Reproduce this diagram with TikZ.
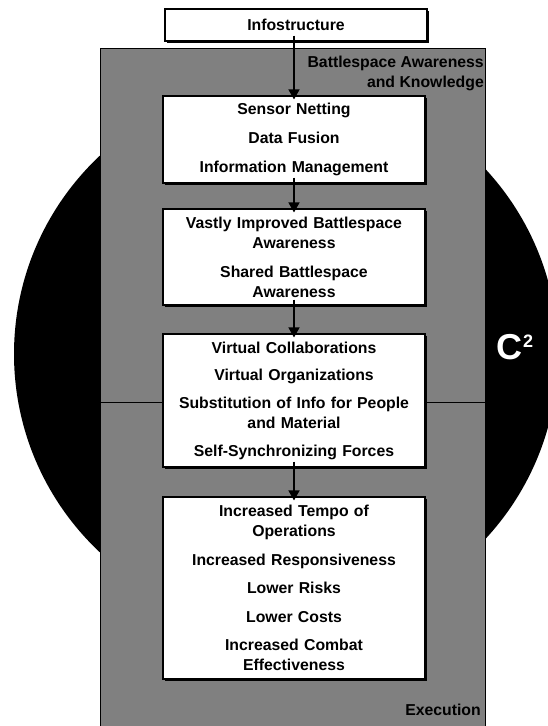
\documentclass[tikz,border=0pt]{standalone}
\usepackage{fontspec}
\setmainfont{Liberation Sans}
\usetikzlibrary{arrows.meta,shadows}
\definecolor{bkgray}{HTML}{808080}

\begin{document}
\begin{tikzpicture}[x=1pt,y=-1pt,
    box/.style={draw,fill=white,line width=1.1pt,minimum width=262pt,inner sep=0pt,
      text width=255pt,align=center,font=\fontsize{15.8}{20}\selectfont\bfseries,
      drop shadow={shadow xshift=1.6pt,shadow yshift=-1.6pt,opacity=1,fill=black}},
    lbl/.style={inner sep=0pt,font=\fontsize{15.8}{20}\selectfont\bfseries},
    flow/.style={-{Triangle[width=11pt,length=10pt]},line width=1.5pt,
      shorten <=-6pt,shorten >=-4pt}]
  \useasboundingbox (0,0) rectangle (547,726);
  % C2 disc and the awareness frame
  \fill[black] (286,354) circle (272pt);
  \draw[fill=bkgray,line width=0.8pt] (100,48) rectangle (485,740);
  \node[box,minimum height=32pt] (info) at (296,25) {Infostructure};
  \node[box,minimum height=87pt] (sense) at (294,139.5)
    {Sensor Netting\\[9pt]Data Fusion\\[9pt]Information Management};
  \node[box,minimum height=96pt] (aware) at (294,257)
    {Vastly Improved Battlespace\\Awareness\\[9pt]Shared Battlespace\\Awareness};
  \node[box,minimum height=133pt] (collab) at (294,400.5)
    {Virtual Collaborations\\[7.7pt]Virtual Organizations\\[7.7pt]Substitution of Info for People\\and Material\\[7.7pt]Self-Synchronizing Forces};
  \node[box,minimum height=182pt] (effect) at (294,588)
    {Increased Tempo of\\Operations\\[8.5pt]Increased Responsiveness\\[8.5pt]Lower Risks\\[8.5pt]Lower Costs\\[8.5pt]Increased Combat\\Effectiveness};
  \node[lbl,anchor=north east,align=right] (bak) at (484,56) {Battlespace Awareness\\and Knowledge};
  \node[lbl,anchor=base east] (exec) at (481,715) {Execution};
  \node[lbl,anchor=base west,text=white,font=\fontsize{36}{40}\selectfont\bfseries] (ctwo) at (496,359)
    {C\kern1pt\raisebox{12pt}{\fontsize{18}{18}\selectfont 2}};
  % divider
  \coordinate (gl) at (100,402);
  \coordinate (gr) at (485,402);
  \draw[line width=0.8pt] (gl) -- (gl -| collab.west);
  \draw[line width=0.8pt] (collab.east |- gr) -- (gr);
  % flow
  \draw[flow] (info.south -| sense.north) -- (sense.north);
  \draw[flow] (sense) -- (aware);
  \draw[flow] (aware.south) -- (collab.north);
  \draw[flow] (collab.south) -- (effect.north);
\end{tikzpicture}
\end{document}
